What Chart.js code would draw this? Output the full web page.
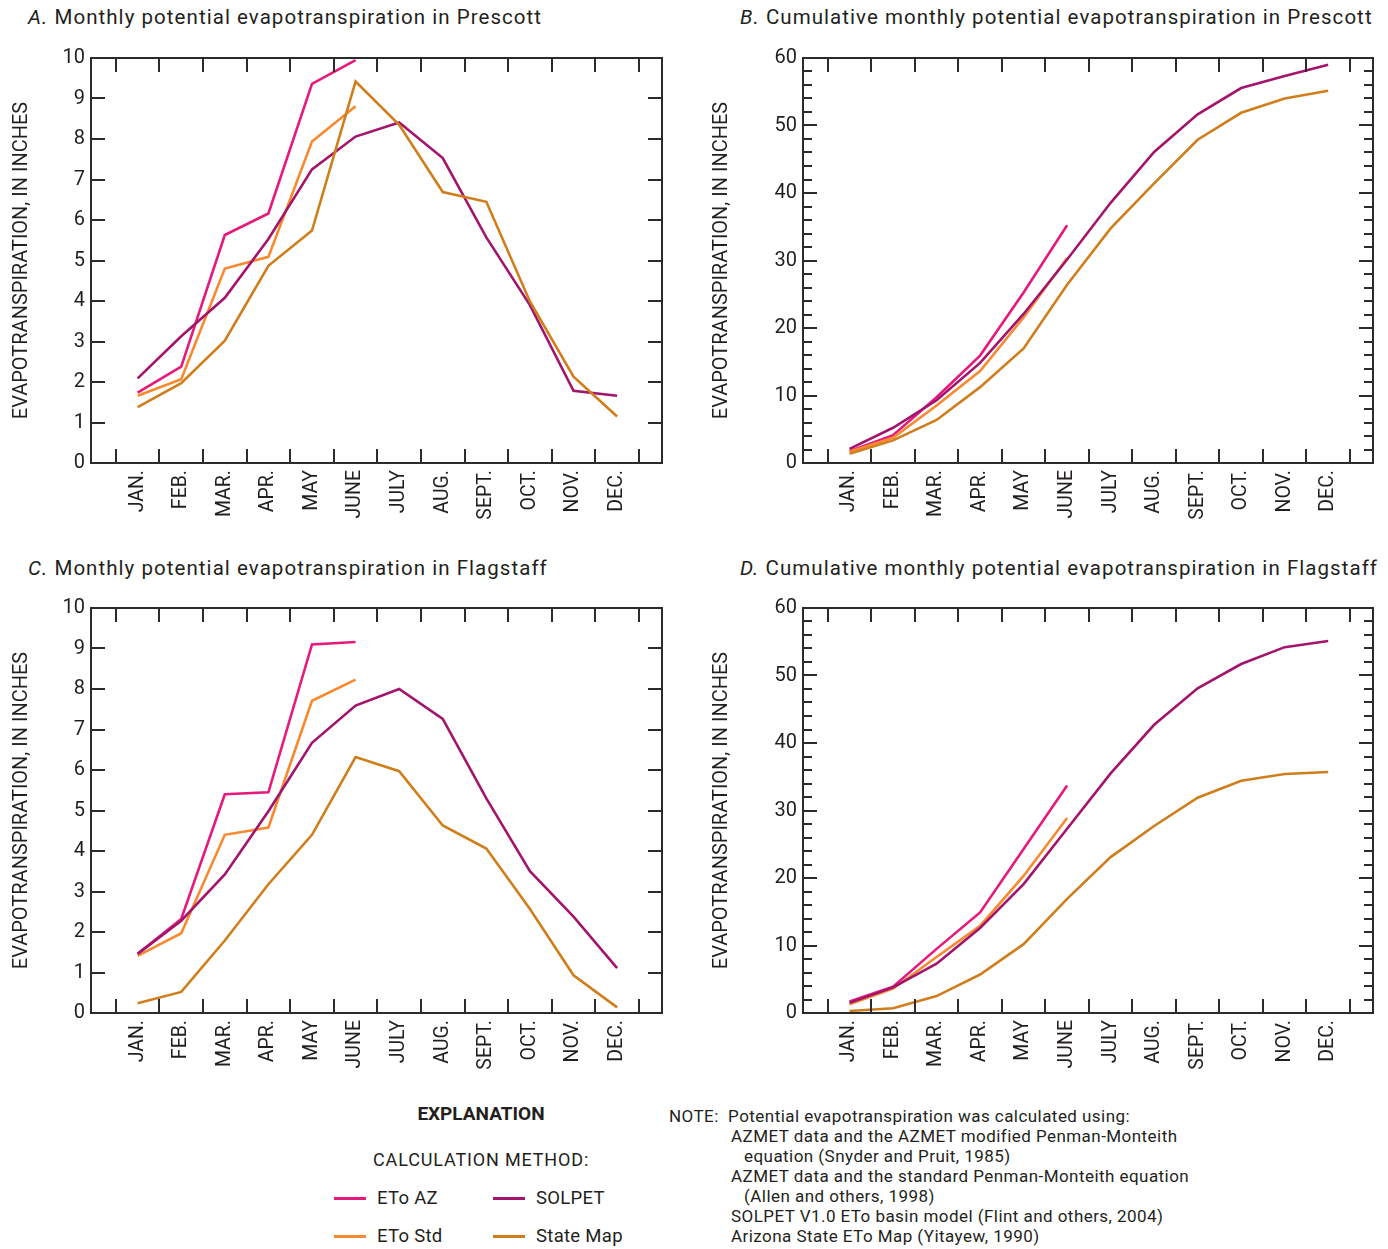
<!DOCTYPE html>
<html>
<head>
<meta charset="utf-8">
<script src="https://cdn.jsdelivr.net/npm/chart.js@4.4.1/dist/chart.umd.min.js"></script>
<style>
  body { margin: 0; background: #fff; width: 1388px; height: 1249px; position: relative; overflow: hidden;
         font-family: 'Roboto', 'Liberation Sans', sans-serif; color: #231f20; }
  .panel { position: absolute; }
  .ptitle { position: absolute; font-size: 20.5px; line-height: 24px; letter-spacing: 1.05px; white-space: nowrap; }
  .ptitle i { font-style: italic; }
  #explain { position: absolute; left: 320px; top: 1102px; width: 320px; }
  #explain .head { position: absolute; left: 0; width: 322px; text-align: center; font-weight: bold; font-size: 19px; top: 0; }
  #explain .method { position: absolute; left: 53px; top: 47px; font-size: 18px; letter-spacing: 0.85px; }
  .item { position: absolute; font-size: 18.5px; line-height: 22px; letter-spacing: 0.3px; }
  .item span.swatch { display: inline-block; width: 32px; height: 3px; vertical-align: middle; margin-right: 11px; position: relative; top: -1px; }
  .note { position: absolute; font-size: 17px; line-height: 20px; letter-spacing: 0.45px; white-space: nowrap; }
</style>
</head>
<body>
<div class="ptitle" style="left:28px; top:5px;"><i>A.</i> Monthly potential evapotranspiration in Prescott</div>
<div class="ptitle" style="left:740px; top:5px;"><i>B.</i> Cumulative monthly potential evapotranspiration in Prescott</div>
<div class="ptitle" style="left:28px; top:556px;"><i>C.</i> Monthly potential evapotranspiration in Flagstaff</div>
<div class="ptitle" style="left:740px; top:556px;"><i>D.</i> Cumulative monthly potential evapotranspiration in Flagstaff</div>

<canvas id="chartA" class="panel" width="690" height="500" style="left:0; top:40px;"></canvas>
<canvas id="chartB" class="panel" width="688" height="500" style="left:700px; top:40px;"></canvas>
<canvas id="chartC" class="panel" width="690" height="500" style="left:0; top:590px;"></canvas>
<canvas id="chartD" class="panel" width="688" height="500" style="left:700px; top:590px;"></canvas>

<div id="explain">
  <div class="head">EXPLANATION</div>
  <div class="method">CALCULATION METHOD:</div>
  <div id="legend"></div>
</div>

<div class="note" style="left:669px; top:1106px;">NOTE:&nbsp; Potential evapotranspiration was calculated using:</div>
<div class="note" style="left:731px; top:1126px;">AZMET data and the AZMET modified Penman-Monteith</div>
<div class="note" style="left:744px; top:1146px;">equation (Snyder and Pruit, 1985)</div>
<div class="note" style="left:731px; top:1166px;">AZMET data and the standard Penman-Monteith equation</div>
<div class="note" style="left:744px; top:1186px;">(Allen and others, 1998)</div>
<div class="note" style="left:731px; top:1206px;">SOLPET V1.0 ETo basin model (Flint and others, 2004)</div>
<div class="note" style="left:731px; top:1226px;">Arizona State ETo Map (Yitayew, 1990)</div>

<script>
const months = ['JAN.', 'FEB.', 'MAR.', 'APR.', 'MAY', 'JUNE', 'JULY', 'AUG.', 'SEPT.', 'OCT.', 'NOV.', 'DEC.'];
const seriesNames = ['ETo AZ', 'ETo Std', 'SOLPET', 'State Map'];
const seriesColors = ['#e6197c', '#f78a30', '#a3146c', '#d07e1c'];

// Prescott, monthly (inches)
const prescottEtoAz = [1.74, 2.38, 5.63, 6.16, 9.36, 9.95];
const prescottEtoStd = [1.66, 2.07, 4.80, 5.09, 7.94, 8.81];
const prescottSolpet = [2.09, 3.13, 4.08, 5.53, 7.25, 8.06, 8.41, 7.53, 5.57, 3.90, 1.78, 1.66];
const prescottStateMap = [1.38, 1.97, 3.02, 4.87, 5.74, 9.42, 8.35, 6.69, 6.45, 3.99, 2.13, 1.15];

// Prescott, cumulative (inches)
const prescottCumEtoAz = [1.74, 4.12, 9.75, 15.91, 25.27, 35.22];
const prescottCumEtoStd = [1.66, 3.73, 8.53, 13.62, 21.56, 30.37];
const prescottCumSolpet = [2.09, 5.22, 9.30, 14.83, 22.08, 30.14, 38.55, 46.08, 51.65, 55.55, 57.33, 58.99];
const prescottCumStateMap = [1.38, 3.35, 6.37, 11.24, 16.98, 26.40, 34.75, 41.44, 47.89, 51.88, 54.01, 55.16];

// Flagstaff, monthly (inches)
const flagstaffEtoAz = [1.46, 2.32, 5.40, 5.45, 9.10, 9.16];
const flagstaffEtoStd = [1.41, 1.97, 4.40, 4.58, 7.71, 8.23];
const flagstaffSolpet = [1.46, 2.28, 3.42, 4.98, 6.67, 7.59, 8.00, 7.26, 5.30, 3.50, 2.38, 1.11];
const flagstaffStateMap = [0.24, 0.52, 1.79, 3.18, 4.40, 6.32, 5.97, 4.63, 4.06, 2.57, 0.93, 0.14];

// Flagstaff, cumulative (inches)
const flagstaffCumEtoAz = [1.7, 3.9, 9.5, 14.9, 24.3, 33.7];
const flagstaffCumEtoStd = [1.3, 3.6, 8.3, 12.9, 20.3, 28.9];
const flagstaffCumSolpet = [1.5, 3.8, 7.3, 12.6, 19.1, 27.3, 35.5, 42.7, 48.1, 51.7, 54.2, 55.1];
const flagstaffCumStateMap = [0.3, 0.7, 2.5, 5.7, 10.2, 16.9, 23.1, 27.7, 31.9, 34.4, 35.4, 35.7];

const axisColor = '#2b2b2b';
const labelFont = "'Roboto', sans-serif";

// frame and inward tick marks on all four sides
const frameTicks = {
    id: 'frameTicks',
    afterDatasetsDraw(chart, args, opts) {
        const { ctx, chartArea: { left, right, top, bottom }, scales: { x, y } } = chart;
        ctx.save();
        ctx.strokeStyle = axisColor;
        ctx.lineWidth = 2;
        ctx.beginPath();
        for (let i = 0; i <= months.length; i++) {
            const px = Math.round(x.getPixelForValue(i - 0.5));
            ctx.moveTo(px, top); ctx.lineTo(px, top + 14);
            ctx.moveTo(px, bottom); ctx.lineTo(px, bottom - 14);
        }
        for (let v = opts.minor; v < y.max; v += opts.minor) {
            const len = (Math.round(v * 100) % Math.round(opts.major * 100) === 0) ? 14 : 9;
            const py = Math.round(y.getPixelForValue(v));
            ctx.moveTo(left, py); ctx.lineTo(left + len, py);
            ctx.moveTo(right, py); ctx.lineTo(right - len, py);
        }
        ctx.stroke();
        ctx.strokeRect(left, top, right - left, bottom - top);
        ctx.restore();
    }
};

function makeChart(id, seriesList, yMax, major, minor, yAxisWidth, padRight) {
    const datasets = [];
    // draw order: State Map, SOLPET, ETo Std, ETo AZ (AZ on top)
    [3, 2, 1, 0].forEach(k => {
        datasets.push({
            label: seriesNames[k],
            data: seriesList[k].map((v, i) => ({ x: i, y: v })),
            borderColor: seriesColors[k],
            backgroundColor: seriesColors[k],
            borderWidth: 2.6,
            pointRadius: 0,
            tension: 0,
            fill: false
        });
    });

    return new Chart(document.getElementById(id), {
        type: 'line',
        data: { datasets },
        options: {
            responsive: false,
            animation: false,
            layout: { padding: { top: 14, right: padRight, left: 0, bottom: 0 } },
            plugins: {
                legend: { display: false },
                tooltip: { enabled: false },
                frameTicks: { major, minor }
            },
            scales: {
                x: {
                    type: 'linear',
                    min: -1.07,
                    max: 12.03,
                    afterBuildTicks: scale => { scale.ticks = months.map((m, i) => ({ value: i })); },
                    afterFit: scale => { scale.height = 77; },
                    grid: { display: false, drawTicks: false },
                    border: { display: false },
                    ticks: {
                        autoSkip: false,
                        maxRotation: 90,
                        minRotation: 90,
                        padding: 7,
                        color: '#231f20',
                        font: { family: labelFont, size: 19.5 },
                        callback: v => months[v]
                    }
                },
                y: {
                    type: 'linear',
                    min: 0,
                    max: yMax,
                    afterFit: scale => { scale.width = yAxisWidth; },
                    grid: { display: false, drawTicks: false },
                    border: { display: false },
                    ticks: {
                        stepSize: major,
                        padding: 6,
                        color: '#231f20',
                        font: { family: labelFont, size: 20 }
                    },
                    title: {
                        display: true,
                        text: 'EVAPOTRANSPIRATION, IN INCHES',
                        color: '#231f20',
                        font: { family: labelFont, size: 20 },
                        padding: { top: 10, bottom: 0 }
                    }
                }
            }
        },
        plugins: [frameTicks]
    });
}

makeChart('chartA', [prescottEtoAz, prescottEtoStd, prescottSolpet, prescottStateMap], 10, 1, 1, 91, 28);
makeChart('chartB', [prescottCumEtoAz, prescottCumEtoStd, prescottCumSolpet, prescottCumStateMap], 60, 10, 2, 103, 15);
makeChart('chartC', [flagstaffEtoAz, flagstaffEtoStd, flagstaffSolpet, flagstaffStateMap], 10, 1, 1, 91, 28);
makeChart('chartD', [flagstaffCumEtoAz, flagstaffCumEtoStd, flagstaffCumSolpet, flagstaffCumStateMap], 60, 10, 2, 103, 15);

// legend in two columns: ETo AZ / ETo Std on the left, SOLPET / State Map on the right
const legendEl = document.getElementById('legend');
const legendPos = [[14, 85], [14, 123], [173, 85], [173, 123]];
seriesNames.forEach((name, k) => {
    const item = document.createElement('div');
    item.className = 'item';
    item.style.left = legendPos[k][0] + 'px';
    item.style.top = legendPos[k][1] + 'px';
    item.innerHTML = `<span class="swatch" style="background:${seriesColors[k]}"></span>${name}`;
    legendEl.appendChild(item);
});
</script>
</body>
</html>
